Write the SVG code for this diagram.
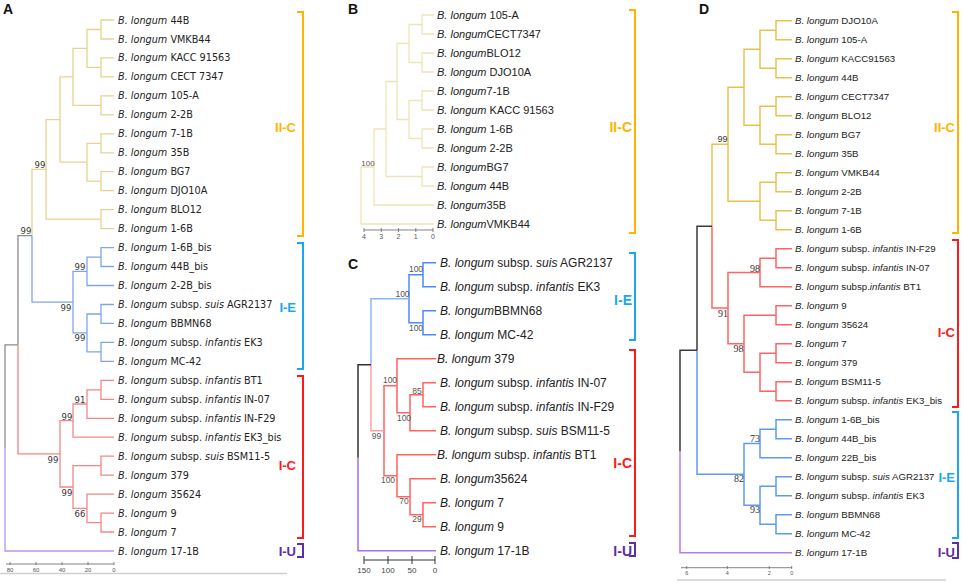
<svg xmlns="http://www.w3.org/2000/svg" width="964" height="583" viewBox="0 0 964 583">
<style>
text{font-family:"Liberation Sans",Arial,sans-serif;fill:#222}
.a{font-family:"DejaVu Sans",Verdana,sans-serif;font-size:9.7px}
.b{font-size:11px}
.c{font-size:12px}
.d{font-size:9.7px}
.i{font-style:italic}
.pl{font-size:14px;font-weight:bold;fill:#111}
.na{font-family:"DejaVu Sans",Verdana,sans-serif;font-size:8.5px;fill:#333;text-anchor:middle}
.nb{font-size:8px;fill:#555;text-anchor:middle}
.nc{font-size:8.5px;fill:#555;text-anchor:middle}
.nd{font-family:"Liberation Serif","Times New Roman",serif;font-size:10px;fill:#333;text-anchor:middle}
.nds{font-size:9px;fill:#333;text-anchor:middle}
.tk{font-size:6px;fill:#555;text-anchor:middle}
.tkb{font-size:7px;fill:#555;text-anchor:middle}
.tkc{font-size:8px;fill:#444;text-anchor:middle}
.tkd{font-size:5.5px;fill:#555;text-anchor:middle}
path{fill:none}
.ay{stroke:#e6d48e;stroke-width:1.3}
.ab{stroke:#7ea6e6;stroke-width:1.3}
.ar{stroke:#ef8888;stroke-width:1.3}
.ag{stroke:#8c8c8c;stroke-width:1.3}
.ap{stroke:#b596e6;stroke-width:1.3}
.by{stroke:#eee4b6;stroke-width:1.3}
.cb{stroke:#4a8cf5;stroke-width:1.5}
.cb2{stroke:#8ab6f8;stroke-width:1.5}
.cr{stroke:#ff6262;stroke-width:1.5}
.cr2{stroke:#ffa0a0;stroke-width:1.5}
.ck{stroke:#333;stroke-width:1.5}
.cp{stroke:#9f70f0;stroke-width:1.5}
.dy{stroke:#e8c250;stroke-width:1.5}
.dr{stroke:#ff6464;stroke-width:1.5}
.db{stroke:#5c9cf0;stroke-width:1.5}
.dk{stroke:#3a3a3a;stroke-width:1.5}
.dp{stroke:#b57cf0;stroke-width:1.5}
.ax{stroke:#666;stroke-width:0.8}
.sep{stroke:#d0d0d0;stroke-width:1.5}
.br{stroke-width:2}
.bl{font-size:13px;font-weight:bold;text-anchor:end}
.blw{font-size:14px;font-weight:bold;text-anchor:end}
.cy{stroke:#ffb400;fill:none}
.ce{stroke:#1aa7ec;fill:none}
.cc{stroke:#ff1a1a;fill:none}
.cu{stroke:#5e2ca5;fill:none}
.ty{fill:#ffb400}
.te{fill:#1aa7ec}
.tc{fill:#ff1a1a}
.tu{fill:#5e2ca5}
</style>

<!-- Panel letters -->
<g id="panel-letters">
<text class="pl" x="3" y="14">A</text>
<text class="pl" x="348" y="14">B</text>
<text class="pl" x="348" y="269">C</text>
<text class="pl" x="699" y="14">D</text>
</g>

<!-- ================= PANEL A ================= -->
<g id="connectors-A">
<path class="ay" d="M101 29.5V20H114M101 29.5V39H114M101 67.4V57.9H114M101 67.4V76.9H114M87 48.4V29.5H101M87 48.4V67.4H101M101 105.3V95.9H114M101 105.3V114.8H114M73 76.9V48.4H87M73 76.9V105.3H101M101 143.3V133.8H114M101 143.3V152.8H114M101 181.2V171.7H114M101 181.2V190.7H114M87 162.2V143.3H101M87 162.2V181.2H101M60 119.6V76.9H73M60 119.6V162.2H87M101 219.1V209.6H114M101 219.1V228.6H114M46 169.4V119.6H60M46 169.4V219.1H101M32 235.7V169.4H46"/>
<path class="ab" d="M101 257.1V247.6H114M101 257.1V266.5H114M87 271.3V257.1H101M87 271.3V285.5H114M101 314V304.5H114M101 314V323.4H114M101 351.9V342.4H114M101 351.9V361.4H114M87 332.9V314H101M87 332.9V351.9H101M73 302.1V271.3H87M73 302.1V332.9H87M32 235.7V302.1H73"/>
<path class="ag" d="M18 344.8V235.7H32M5 447.9V344.8H18"/>
<path class="ar" d="M101 389.8V380.3H114M101 389.8V399.3H114M87 404V389.8H101M87 404V418.3H114M73 420.6V404H87M73 420.6V437.2H114M101 465.7V456.2H114M101 465.7V475.1H114M101 522.6V513.1H114M101 522.6V532H114M87 508.3V494.1H114M87 508.3V522.6H101M73 487V465.7H101M73 487V508.3H87M60 453.8V420.6H73M60 453.8V487H73M18 344.8V453.8H60"/>
<path class="ap" d="M5 447.9V551H114"/>
</g>
<g id="support-A">
<text class="na" x="40" y="168">99</text>
<text class="na" x="26" y="234">99</text>
<text class="na" x="80" y="269.5">99</text>
<text class="na" x="80" y="340.5">99</text>
<text class="na" x="66" y="311">99</text>
<text class="na" x="80" y="403">91</text>
<text class="na" x="67" y="419.5">99</text>
<text class="na" x="80" y="516.5">66</text>
<text class="na" x="67" y="495.5">99</text>
<text class="na" x="53" y="463">99</text>
</g>
<g id="leaves-A">
<text id="a0" class="a" x="118" y="23.5"><tspan class="i">B. longum</tspan> 44B</text>
<text id="a1" class="a" x="118" y="42.5"><tspan class="i">B. longum</tspan> VMKB44</text>
<text id="a2" class="a" x="118" y="61.4"><tspan class="i">B. longum</tspan> KACC 91563</text>
<text id="a3" class="a" x="118" y="80.4"><tspan class="i">B. longum</tspan> CECT 7347</text>
<text id="a4" class="a" x="118" y="99.4"><tspan class="i">B. longum</tspan> 105-A</text>
<text id="a5" class="a" x="118" y="118.3"><tspan class="i">B. longum</tspan> 2-2B</text>
<text id="a6" class="a" x="118" y="137.3"><tspan class="i">B. longum</tspan> 7-1B</text>
<text id="a7" class="a" x="118" y="156.3"><tspan class="i">B. longum</tspan> 35B</text>
<text id="a8" class="a" x="118" y="175.2"><tspan class="i">B. longum</tspan> BG7</text>
<text id="a9" class="a" x="118" y="194.2"><tspan class="i">B. longum</tspan> DJO10A</text>
<text id="a10" class="a" x="118" y="213.1"><tspan class="i">B. longum</tspan> BLO12</text>
<text id="a11" class="a" x="118" y="232.1"><tspan class="i">B. longum</tspan> 1-6B</text>
<text id="a12" class="a" x="118" y="251.1"><tspan class="i">B. longum</tspan> 1-6B_bis</text>
<text id="a13" class="a" x="118" y="270"><tspan class="i">B. longum</tspan> 44B_bis</text>
<text id="a14" class="a" x="118" y="289"><tspan class="i">B. longum</tspan> 2-2B_bis</text>
<text id="a15" class="a" x="118" y="308"><tspan class="i">B. longum</tspan> subsp. <tspan class="i">suis</tspan> AGR2137</text>
<text id="a16" class="a" x="118" y="326.9"><tspan class="i">B. longum</tspan> BBMN68</text>
<text id="a17" class="a" x="118" y="345.9"><tspan class="i">B. longum</tspan> subsp. <tspan class="i">infantis</tspan> EK3</text>
<text id="a18" class="a" x="118" y="364.9"><tspan class="i">B. longum</tspan> MC-42</text>
<text id="a19" class="a" x="118" y="383.8"><tspan class="i">B. longum</tspan> subsp. <tspan class="i">infantis</tspan> BT1</text>
<text id="a20" class="a" x="118" y="402.8"><tspan class="i">B. longum</tspan> subsp. <tspan class="i">infantis</tspan> IN-07</text>
<text id="a21" class="a" x="118" y="421.8"><tspan class="i">B. longum</tspan> subsp. <tspan class="i">infantis</tspan> IN-F29</text>
<text id="a22" class="a" x="118" y="440.7"><tspan class="i">B. longum</tspan> subsp. <tspan class="i">infantis</tspan> EK3_bis</text>
<text id="a23" class="a" x="118" y="459.7"><tspan class="i">B. longum</tspan> subsp. <tspan class="i">suis</tspan> BSM11-5</text>
<text id="a24" class="a" x="118" y="478.6"><tspan class="i">B. longum</tspan> 379</text>
<text id="a25" class="a" x="118" y="497.6"><tspan class="i">B. longum</tspan> 35624</text>
<text id="a26" class="a" x="118" y="516.6"><tspan class="i">B. longum</tspan> 9</text>
<text id="a27" class="a" x="118" y="535.5"><tspan class="i">B. longum</tspan> 7</text>
<text id="a28" class="a" x="118" y="554.5"><tspan class="i">B. longum</tspan> 17-1B</text>
</g>
<g id="axis-A">
<path class="ax" d="M6 564H114M10 562V565M36 562V565M62 562V565M88 562V565M114 562V565"/>
<text class="tk" x="10" y="571.5">80</text>
<text class="tk" x="36" y="571.5">60</text>
<text class="tk" x="62" y="571.5">40</text>
<text class="tk" x="88" y="571.5">20</text>
<text class="tk" x="114" y="571.5">0</text>
<path class="sep" d="M0 573.5H287"/>
</g>
<g id="clusters-A">
<path class="br cy" d="M297 12H303V236H297"/>
<text class="bl ty" x="296" y="131.5">II-C</text>
<path class="br ce" d="M297 243H303V369H297"/>
<text class="bl te" x="296" y="311.5">I-E</text>
<path class="br cc" d="M297 376H303V538H297"/>
<text class="bl tc" x="296" y="469.5">I-C</text>
<path class="br cu" d="M297 544H303V557H297"/>
<text class="bl tu" x="296" y="555.5">I-U</text>
</g>

<!-- ================= PANEL B ================= -->
<g id="connectors-B">
<path class="by" d="M422 24.5V15H434M422 24.5V34H434M422 62.5V53H434M422 62.5V72H434M409 43.5V24.5H422M409 43.5V62.5H422M422 100.5V91H434M422 100.5V110H434M422 138.5V129H434M422 138.5V148H434M409 119.5V100.5H422M409 119.5V138.5H422M397 81.5V43.5H409M397 81.5V119.5H409M422 176.5V167H434M422 176.5V186H434M386 129V81.5H397M386 129V176.5H422M374 167V129H386M374 167V205H434M361 195.5V167H374M361 195.5V224H434"/>
</g>
<g id="support-B">
<text class="nb" x="368" y="166">100</text>
</g>
<g id="leaves-B">
<text id="b0" class="b" x="437" y="19"><tspan class="i">B. longum</tspan> 105-A</text>
<text id="b1" class="b" x="437" y="38"><tspan class="i">B. longum</tspan>CECT7347</text>
<text id="b2" class="b" x="437" y="57"><tspan class="i">B. longum</tspan>BLO12</text>
<text id="b3" class="b" x="437" y="76"><tspan class="i">B. longum</tspan> DJO10A</text>
<text id="b4" class="b" x="437" y="95"><tspan class="i">B. longum</tspan>7-1B</text>
<text id="b5" class="b" x="437" y="114"><tspan class="i">B. longum</tspan> KACC 91563</text>
<text id="b6" class="b" x="437" y="133"><tspan class="i">B. longum</tspan> 1-6B</text>
<text id="b7" class="b" x="437" y="152"><tspan class="i">B. longum</tspan> 2-2B</text>
<text id="b8" class="b" x="437" y="171"><tspan class="i">B. longum</tspan>BG7</text>
<text id="b9" class="b" x="437" y="190"><tspan class="i">B. longum</tspan> 44B</text>
<text id="b10" class="b" x="437" y="209"><tspan class="i">B. longum</tspan>35B</text>
<text id="b11" class="b" x="437" y="228"><tspan class="i">B. longum</tspan>VMKB44</text>
</g>
<g id="axis-B">
<path class="ax" d="M364 230H433M364 228V232M381.3 228V232M398.5 228V232M415.8 228V232M433 228V232"/>
<text class="tkb" x="364" y="239">4</text>
<text class="tkb" x="381.3" y="239">3</text>
<text class="tkb" x="398.5" y="239">2</text>
<text class="tkb" x="415.8" y="239">1</text>
<text class="tkb" x="433" y="239">0</text>
</g>

<!-- ================= PANEL C ================= -->
<g id="connectors-C">
<path class="cb" d="M423 274.7V262.7H436M423 274.7V286.7H436M423 322.7V310.7H436M423 322.7V334.7H436M409 298.7V274.7H423M409 298.7V322.7H423"/>
<path class="cb2" d="M371 364.7V298.7H409"/>
<path class="cr" d="M397 385.7V358.7H436M423 394.7V382.7H436M423 394.7V406.7H436M410 412.7V394.7H423M410 412.7V430.7H436M397 385.7V412.7H410M384 430.7V385.7H397M423 514.7V502.7H436M423 514.7V526.7H436M410 496.7V478.7H436M410 496.7V514.7H423M397 475.7V454.7H436M397 475.7V496.7H410M384 430.7V475.7H397"/>
<path class="cr2" d="M371 364.7V430.7H384"/>
<path class="ck" d="M358 457.7V364.7H371"/>
<path class="cp" d="M358 457.7V550.7H436"/>
</g>
<g id="support-C">
<text class="nc" x="416" y="272">100</text>
<text class="nc" x="416" y="330.5">100</text>
<text class="nc" x="402.5" y="296.5">100</text>
<text class="nc" x="417" y="393.5">85</text>
<text class="nc" x="404" y="421">100</text>
<text class="nc" x="390" y="383">100</text>
<text class="nc" x="417" y="522">29</text>
<text class="nc" x="404" y="504">70</text>
<text class="nc" x="388" y="483">100</text>
<text class="nc" x="376.5" y="438.5">99</text>
</g>
<g id="leaves-C">
<text id="c0" class="c" x="440" y="267"><tspan class="i">B. longum</tspan> subsp. <tspan class="i">suis</tspan> AGR2137</text>
<text id="c1" class="c" x="440" y="291"><tspan class="i">B. longum</tspan> subsp. <tspan class="i">infantis</tspan> EK3</text>
<text id="c2" class="c" x="440" y="315"><tspan class="i">B. longum</tspan>BBMN68</text>
<text id="c3" class="c" x="440" y="339"><tspan class="i">B. longum</tspan> MC-42</text>
<text id="c4" class="c" x="437" y="363"><tspan class="i">B. longum</tspan> 379</text>
<text id="c5" class="c" x="440" y="387"><tspan class="i">B. longum</tspan> subsp. <tspan class="i">infantis</tspan> IN-07</text>
<text id="c6" class="c" x="440" y="411"><tspan class="i">B. longum</tspan> subsp. <tspan class="i">infantis</tspan> IN-F29</text>
<text id="c7" class="c" x="440" y="435"><tspan class="i">B. longum</tspan> subsp. <tspan class="i">suis</tspan> BSM11-5</text>
<text id="c8" class="c" x="437" y="459"><tspan class="i">B. longum</tspan> subsp. <tspan class="i">infantis</tspan> BT1</text>
<text id="c9" class="c" x="440" y="483"><tspan class="i">B. longum</tspan>35624</text>
<text id="c10" class="c" x="440" y="507"><tspan class="i">B. longum</tspan> 7</text>
<text id="c11" class="c" x="440" y="531"><tspan class="i">B. longum</tspan> 9</text>
<text id="c12" class="c" x="440" y="555"><tspan class="i">B. longum</tspan> 17-1B</text>
</g>
<g id="axis-C">
<path class="ax" d="M364 560H435M364 556V564M388 556V564M412 556V564M435 556V564" style="stroke:#333;stroke-width:1"/>
<text class="tkc" x="364" y="572.5">150</text>
<text class="tkc" x="388" y="572.5">100</text>
<text class="tkc" x="412" y="572.5">50</text>
<text class="tkc" x="435" y="572.5">0</text>
</g>
<g id="clusters-BC">
<path class="br cy" d="M629 10H635V233H629"/>
<text class="blw ty" x="632" y="132">II-C</text>
<path class="br ce" d="M629 253H635V340H629"/>
<text class="blw te" x="632" y="305">I-E</text>
<path class="br cc" d="M629 350H635V536H629"/>
<text class="blw tc" x="632" y="468">I-C</text>
<path class="br cu" d="M629 543H635V556H629"/>
<text class="blw tu" x="632" y="556">I-U</text>
</g>

<!-- ================= PANEL D ================= -->
<g id="connectors-D">
<path class="dy" d="M776 30.2V20.7H792M776 30.2V39.7H792M776 68.2V58.7H792M776 68.2V77.7H792M760 49.2V30.2H776M760 49.2V68.2H776M776 106.2V96.7H792M776 106.2V115.7H792M776 144.2V134.7H792M776 144.2V153.7H792M760 125.2V106.2H776M760 125.2V144.2H776M744 87.2V49.2H760M744 87.2V125.2H760M776 182.2V172.7H792M776 182.2V191.7H792M776 220.2V210.7H792M776 220.2V229.7H792M760 201.2V182.2H776M760 201.2V220.2H776M728 144.2V87.2H744M728 144.2V201.2H760M712 226.2V144.2H728"/>
<path class="dr" d="M776 258.2V248.7H792M776 258.2V267.7H792M760 272.5V258.2H776M760 272.5V286.7H792M776 315.2V305.7H792M776 315.2V324.7H792M776 353.2V343.7H792M776 353.2V362.7H792M776 391.2V381.7H792M776 391.2V400.7H792M760 372.2V353.2H776M760 372.2V391.2H776M744 343.7V315.2H776M744 343.7V372.2H760M728 308.1V272.5H760M728 308.1V343.7H744M712 226.2V308.1H728"/>
<path class="db" d="M776 429.2V419.7H792M776 429.2V438.7H792M760 443.5V429.2H776M760 443.5V457.7H792M776 486.2V476.7H792M776 486.2V495.7H792M776 524.2V514.7H792M776 524.2V533.7H792M760 505.2V486.2H776M760 505.2V524.2H776M744 474.3V443.5H760M744 474.3V505.2H760M697 350.2V474.3H744"/>
<path class="dk" d="M697 350.2V226.2H712M680 451.5V350.2H697"/>
<path class="dp" d="M680 451.5V552.7H792"/>
</g>
<g id="support-D">
<text class="nds" x="722.5" y="141.5">99</text>
<text class="nd" x="755" y="271.5">98</text>
<text class="nd" x="738.5" y="351.5">98</text>
<text class="nd" x="723" y="316.5">91</text>
<text class="nd" x="755" y="442">73</text>
<text class="nd" x="755" y="513">93</text>
<text class="nd" x="739" y="482">82</text>
</g>
<g id="leaves-D">
<text id="d0" class="d" x="795" y="24.2"><tspan class="i">B. longum</tspan> DJO10A</text>
<text id="d1" class="d" x="795" y="43.2"><tspan class="i">B. longum</tspan> 105-A</text>
<text id="d2" class="d" x="795" y="62.2"><tspan class="i">B. longum</tspan> KACC91563</text>
<text id="d3" class="d" x="795" y="81.2"><tspan class="i">B. longum</tspan> 44B</text>
<text id="d4" class="d" x="795" y="100.2"><tspan class="i">B. longum</tspan> CECT7347</text>
<text id="d5" class="d" x="795" y="119.2"><tspan class="i">B. longum</tspan> BLO12</text>
<text id="d6" class="d" x="795" y="138.2"><tspan class="i">B. longum</tspan> BG7</text>
<text id="d7" class="d" x="795" y="157.2"><tspan class="i">B. longum</tspan> 35B</text>
<text id="d8" class="d" x="795" y="176.2"><tspan class="i">B. longum</tspan> VMKB44</text>
<text id="d9" class="d" x="795" y="195.2"><tspan class="i">B. longum</tspan> 2-2B</text>
<text id="d10" class="d" x="795" y="214.2"><tspan class="i">B. longum</tspan> 7-1B</text>
<text id="d11" class="d" x="795" y="233.2"><tspan class="i">B. longum</tspan> 1-6B</text>
<text id="d12" class="d" x="795" y="252.2"><tspan class="i">B. longum</tspan> subsp. <tspan class="i">infantis</tspan> IN-F29</text>
<text id="d13" class="d" x="795" y="271.2"><tspan class="i">B. longum</tspan> subsp. <tspan class="i">infantis</tspan> IN-07</text>
<text id="d14" class="d" x="795" y="290.2"><tspan class="i">B. longum</tspan> subsp.<tspan class="i">infantis</tspan> BT1</text>
<text id="d15" class="d" x="795" y="309.2"><tspan class="i">B. longum</tspan> 9</text>
<text id="d16" class="d" x="795" y="328.2"><tspan class="i">B. longum</tspan> 35624</text>
<text id="d17" class="d" x="795" y="347.2"><tspan class="i">B. longum</tspan> 7</text>
<text id="d18" class="d" x="795" y="366.2"><tspan class="i">B. longum</tspan> 379</text>
<text id="d19" class="d" x="795" y="385.2"><tspan class="i">B. longum</tspan> BSM11-5</text>
<text id="d20" class="d" x="795" y="404.2"><tspan class="i">B. longum</tspan> subsp. <tspan class="i">infantis</tspan> EK3_bis</text>
<text id="d21" class="d" x="795" y="423.2"><tspan class="i">B. longum</tspan> 1-6B_bis</text>
<text id="d22" class="d" x="795" y="442.2"><tspan class="i">B. longum</tspan> 44B_bis</text>
<text id="d23" class="d" x="795" y="461.2"><tspan class="i">B. longum</tspan> 22B_bis</text>
<text id="d24" class="d" x="795" y="480.2"><tspan class="i">B. longum</tspan> subsp. <tspan class="i">suis</tspan> AGR2137</text>
<text id="d25" class="d" x="795" y="499.2"><tspan class="i">B. longum</tspan> subsp. <tspan class="i">infantis</tspan> EK3</text>
<text id="d26" class="d" x="795" y="518.2"><tspan class="i">B. longum</tspan> BBMN68</text>
<text id="d27" class="d" x="795" y="537.2"><tspan class="i">B. longum</tspan> MC-42</text>
<text id="d28" class="d" x="795" y="556.2"><tspan class="i">B. longum</tspan> 17-1B</text>
</g>
<g id="axis-D">
<path class="ax" d="M681 567.7H792M686.7 566V569M727.3 566V569M769.3 566V569M791.7 566V569"/>
<text class="tkd" x="686.7" y="574.5">6</text>
<text class="tkd" x="727.3" y="574.5">4</text>
<text class="tkd" x="769.3" y="574.5">2</text>
<text class="tkd" x="791.7" y="574.5">0</text>
<path class="sep" d="M677 580H946"/>
</g>
<g id="clusters-D">
<path class="br cy" d="M952 12H958V233H952"/>
<text class="bl ty" x="955" y="131.5">II-C</text>
<path class="br cc" d="M952 240H958V407H952"/>
<text class="bl tc" x="955" y="336.5">I-C</text>
<path class="br ce" d="M952 412H958V538H952"/>
<text class="bl te" x="955" y="481.5">I-E</text>
<path class="br cu" d="M952 543H958V558H952"/>
<text class="bl tu" x="955" y="556.5">I-U</text>
</g>
</svg>
